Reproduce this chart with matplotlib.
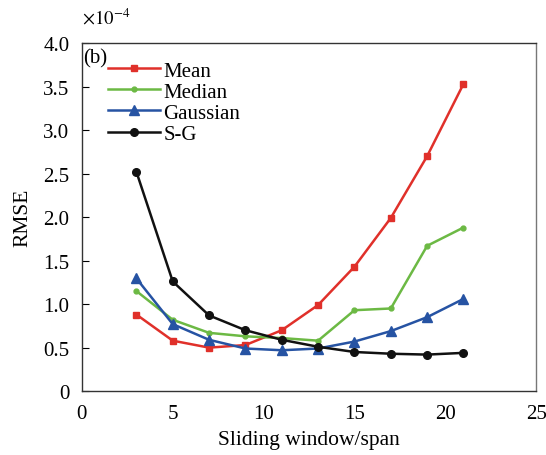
import numpy as np
import matplotlib.pyplot as plt

plt.rcParams["font.family"] = ["Liberation Serif", "DejaVu Serif"]
plt.rcParams["mathtext.fontset"] = "stix"

window = [3, 5, 7, 9, 11, 13, 15, 17, 19, 21]
mean_rmse = [0.88, 0.58, 0.50, 0.53, 0.70, 0.99, 1.43, 1.99, 2.70, 3.53]
median_rmse = [1.15, 0.82, 0.67, 0.63, 0.61, 0.58, 0.93, 0.95, 1.67, 1.88]
gauss_rmse = [1.295, 0.77, 0.59, 0.49, 0.47, 0.49, 0.57, 0.69, 0.85, 1.06]
sg_rmse = [2.52, 1.26, 0.87, 0.70, 0.59, 0.51, 0.45, 0.43, 0.42, 0.44]

fig = plt.figure(figsize=(5.46, 4.56), dpi=100)
ax = fig.add_axes([0.150, 0.140, 0.832, 0.7635])

ax.plot(window, mean_rmse, color="#e0302a", marker="s", markersize=4, lw=1.8, label="Mean")
ax.plot(window, median_rmse, color="#6cb944", marker="o", markersize=3.5, lw=1.8, label="Median")
ax.plot(window, gauss_rmse, color="#2653a3", marker="^", markersize=6.5, lw=1.8, label="Gaussian")
ax.plot(window, sg_rmse, color="#111111", marker="o", markersize=5.5, lw=1.8, label="S-G")

ax.set_xlim(0, 25)
ax.set_ylim(0, 4.0)
ax.set_xticks([0, 5, 10, 15, 20, 25])
ax.set_yticks(np.arange(0, 4.01, 0.5))
ax.set_yticklabels(["0"] + [f"{v:.1f}" for v in np.arange(0.5, 4.01, 0.5)])
ax.tick_params(axis="y", direction="in", length=5, labelsize=15, pad=9)
ax.tick_params(axis="x", length=0, labelsize=15, pad=9)

for side in ["left", "bottom", "top"]:
    ax.spines[side].set_color("#333333")
ax.spines["right"].set_color("#777777")
for s in ax.spines.values():
    s.set_linewidth(1.0)

ax.set_xlabel("Sliding window/span", fontsize=15.5, labelpad=5)
ax.set_ylabel("RMSE", fontsize=15.5, labelpad=8)

fig.text(0.150, 0.96, r"$\times 10^{-4}$", fontsize=13.5, ha="left", va="center")
ax.text(0.003, 0.985, "(b)", transform=ax.transAxes, fontsize=15, ha="left", va="top")

ax.legend(loc="upper left", bbox_to_anchor=(0.04, 0.972), frameon=False, fontsize=15,
          handlelength=2.5, handletextpad=0.15, labelspacing=0.07, borderaxespad=0)

fig.savefig("out.png", dpi=100)
